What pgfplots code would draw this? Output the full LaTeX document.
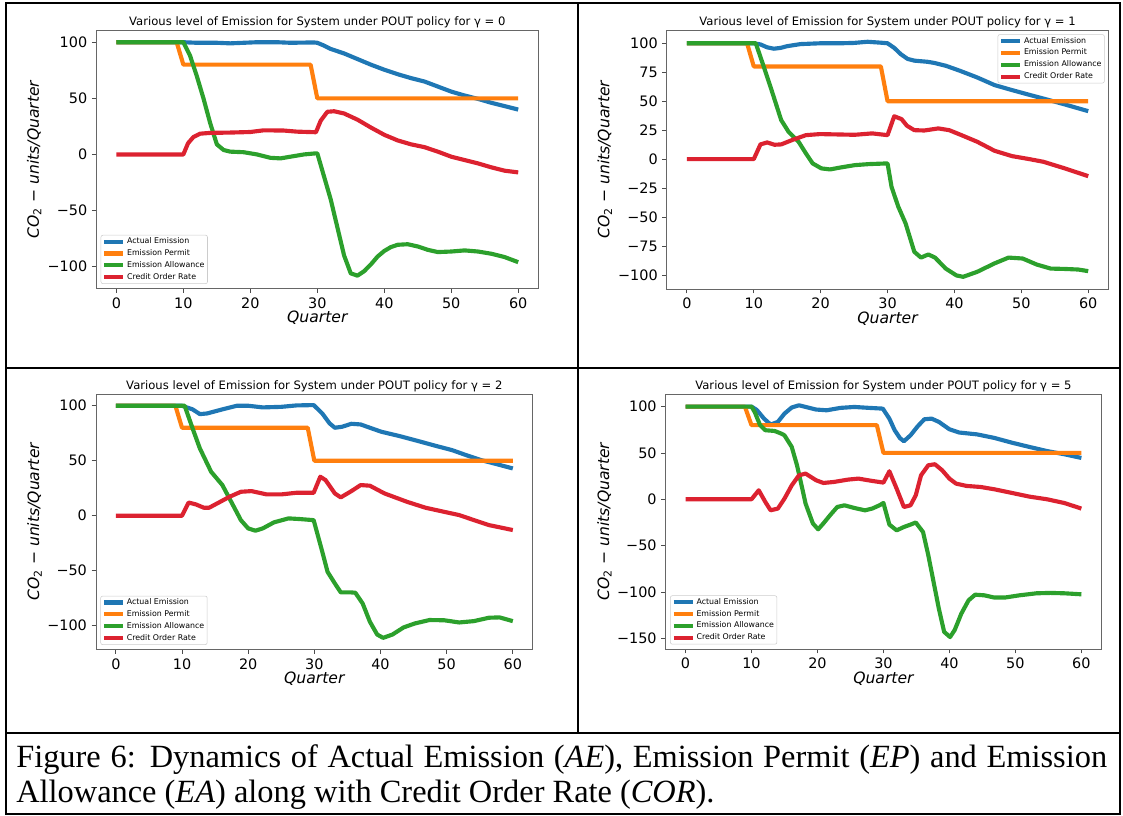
\documentclass[border=0pt]{standalone}
\usepackage{fontspec}
\setmainfont{Liberation Serif}
\newfontfamily\dv{DejaVu Sans}
\usepackage{pgfplots}
\pgfplotsset{compat=1.18}

\definecolor{cblue}{HTML}{1F77B4}
\definecolor{corange}{HTML}{FF7F0E}
\definecolor{cgreen}{HTML}{2CA02C}
\definecolor{cred}{HTML}{DC2230}

\def\U{0.75pt}

\pgfplotsset{
  panel/.style={
    scale only axis, anchor=south west,
    xmin=-3, xmax=63, xtick={0,10,...,60},
    axis line style={black!60, line width=0.6pt},
    tick align=outside, major tick length=3.3pt, tick pos=left,
    tick style={black!70, line width=0.6pt},
    /pgf/number format/assume math mode=true,
    tick label style={font=\dv\fontsize{10.8}{12}\selectfont},
    title style={font=\dv\fontsize{8.7}{10}\selectfont, at={(0.5,1)}, anchor=base, yshift=-2.5pt, inner sep=0pt},
    xlabel={\itshape Quarter},
    xlabel style={font=\dv\fontsize{11.7}{13}\selectfont, at={(axis description cs:0.5,0)}, anchor=base, yshift=-25.5pt, inner sep=0pt},
    ylabel={{\itshape CO}\textsubscript{2} − {\itshape units/Quarter}},
    ylabel style={font=\dv\fontsize{11.7}{13}\selectfont, at={(axis description cs:-0.13,0.5)}, anchor=base, inner sep=0pt},
    every axis plot/.append style={line width=3.1pt, line join=round},
    legend cell align=left,
    legend image code/.code={\draw[#1, line width=3.1pt] (0pt,0pt) -- (14.3pt,0pt);},
    legend style={font=\dv\fontsize{5.9}{7}\selectfont, draw=black!20, rounded corners=1.5pt,
      fill=white, inner xsep=1pt, inner ysep=2pt, row sep=3.2pt,
      nodes={inner xsep=1.2pt, inner ysep=0pt, text height=4.4pt, text depth=1.3pt}},
  },
  lowleft/.style={legend style={at={(0,0)}, anchor=south west, xshift=3.3pt, yshift=3.4pt}},
}

\begin{document}
\begin{tikzpicture}
% ---------- gamma = 0 ----------
\begin{axis}[panel, lowleft, at={(96.3*\U,-288.5*\U)}, width=331.5pt, height=193.5pt,
  ymin=-119.45, ymax=110.45, ytick={-100,-50,0,50,100}, yticklabels={−100,−50,0,50,100},
  title={Various level of Emission for System under POUT policy for γ = 0}]
\addplot[cblue] coordinates {(0,100) (10,100) (12,99.5) (15,99.5) (17,99) (19,99.5) (21,100) (24,100) (26,99.5) (29.5,99.8) (30,99.5) (31,97) (32,94) (34,90) (36,85) (38,80) (40,75.5) (42,71.5) (44,68) (46,65) (48,60.5) (50,56) (52,52.5) (54,49.5) (56,46) (58,43) (60,40)};
\addplot[corange] coordinates {(0,100) (9,100) (10,80) (29,80) (30,50) (60,50)};
\addplot[cgreen] coordinates {(0,100) (10,100) (11,88) (12,70) (13,50) (14,28) (15,9) (16,4) (17,2.5) (19,2) (21,0) (23,-3) (24.5,-3.5) (26,-2) (28,0) (29.8,1) (30,1) (32,-40) (34,-90) (35,-106) (36,-108) (37,-104) (38,-98) (39,-91) (40,-86) (41,-82.5) (42,-80.5) (43.5,-80) (45,-82) (46.5,-85) (48,-87) (50,-86.5) (52,-85.5) (54,-86.5) (56,-88.5) (58,-91.5) (60,-96)};
\addplot[cred] coordinates {(0,0) (10,0) (10.7,10) (11.5,15.5) (12.5,18.5) (14,19.2) (17,19.5) (20,20) (22,21.5) (25,21.3) (27,20.3) (29.8,19.8) (30.5,30) (31.5,38) (32.5,38.5) (34,36.5) (36,31) (38,24) (40,17.5) (42,12.5) (44,9) (46,6.5) (48,2.5) (50,-2) (52,-5) (54,-8) (56,-11.5) (58,-14.5) (60,-16)};
\legend{Actual Emission, Emission Permit, Emission Allowance, Credit Order Rate}
\end{axis}
% ---------- gamma = 1 ----------
\begin{axis}[panel, at={(666.8*\U,-289.1*\U)}, width=331.1pt, height=194.1pt,
  ymin=-112.2, ymax=111.2, ytick={-100,-75,...,100}, yticklabels={−100,−75,−50,−25,0,25,50,75,100},
  legend style={at={(1,1)}, anchor=north east, xshift=-2.7pt, yshift=-3pt},
  title={Various level of Emission for System under POUT policy for γ = 1}]
\addplot[cblue] coordinates {(0,100) (10,100) (11,99) (12,96.5) (13,95.3) (14,96) (15,97.5) (17,99.3) (20,100) (23,100) (25,100.3) (27,101.3) (29,100.5) (30,100) (31,96) (32,90.5) (33,86.5) (34,85) (36,84) (37,83) (38.7,80.6) (40.8,76.3) (43.4,70.5) (46,63.9) (48.6,59.6) (51.2,55.5) (53.8,51.5) (56.5,47.2) (60,41.4)};
\addplot[corange] coordinates {(0,100) (9,100) (10,80) (29,80) (30,50) (60,50)};
\addplot[cgreen] coordinates {(0,100) (10.3,100) (11.5,79.7) (12.5,62.4) (14.1,33.7) (15.2,23.6) (16.7,15) (17.8,4.9) (18.8,-3.7) (20.1,-8) (21.4,-8.9) (23,-7.2) (25.1,-5.2) (27.2,-4.3) (30,-3.7) (30.6,-24) (31.6,-41) (32.7,-55.5) (34,-80) (35,-85) (36.1,-82.3) (37.1,-85) (38.7,-94.5) (40.3,-100.4) (41.3,-101.6) (43.4,-97.3) (46,-90) (48.1,-85) (50.2,-85.8) (52.3,-91) (54.4,-94.5) (56.5,-94.8) (58.5,-95.3) (60,-96.7)};
\addplot[cred] coordinates {(0,0) (10,0) (11,12.7) (12,14.4) (13.1,12.4) (14.1,12.7) (15.7,16.4) (17.8,20.7) (19.9,21.6) (22.5,21.3) (25.1,21) (27.7,22.2) (30,20.7) (31,37) (32.1,34.5) (32.9,28.8) (34,25) (35.5,24.7) (37.6,26.5) (39.2,25) (40.8,21.3) (43.4,15) (46,7.2) (48.6,2.6) (51.2,0) (53.3,-2.3) (56.5,-8) (60,-14.7)};
\legend{Actual Emission, Emission Permit, Emission Allowance, Credit Order Rate}
\end{axis}
% ---------- gamma = 2 ----------
\begin{axis}[panel, lowleft, at={(96*\U,-649.4*\U)}, width=327.5pt, height=191.4pt,
  ymin=-121.5, ymax=110.5, ytick={-100,-50,0,50,100}, yticklabels={−100,−50,0,50,100},
  title={Various level of Emission for System under POUT policy for γ = 2}]
\addplot[cblue] coordinates {(0,100) (10,100) (11.6,96.7) (12.7,92.4) (13.8,93) (16.1,96.7) (18.3,100) (20,100) (22.2,98.5) (25,99) (27.3,100.3) (29.9,100.6) (31.2,93) (32.3,84) (33.1,80) (34.2,80.9) (35.6,83.6) (37,83) (38.4,80) (40.1,76.4) (42.9,72.4) (45.7,67.9) (48.5,63.3) (50.8,59.7) (53,55) (55.2,50.6) (57.5,47) (60,43)};
\addplot[corange] coordinates {(0,100) (9,100) (10,80) (29,80) (30,50) (60,50)};
\addplot[cgreen] coordinates {(0,100) (10.4,100) (11.6,79.4) (12.7,61.2) (14.4,40) (16.1,27.9) (17.7,9.7) (18.9,-4) (20,-11.5) (21.1,-13.6) (22.2,-11.5) (23.9,-6) (26.1,-2.4) (27.8,-3) (29.9,-4) (31.2,-32.7) (32,-51) (33.1,-61.5) (34,-69.7) (35.6,-69.7) (36.2,-70) (37.3,-79.7) (38.4,-96.4) (39.5,-108) (40.4,-111) (41.8,-108) (43.5,-101.5) (45.2,-97.9) (47.4,-94.8) (49.6,-95) (51.9,-97) (54.1,-95.8) (56.4,-92.7) (58,-92.4) (60,-95.8)};
\addplot[cred] coordinates {(0,0) (10,0) (11,12) (12.1,10.3) (13.3,7.3) (14.1,7.3) (15.5,11.8) (17.2,17.3) (18.9,21.8) (20.5,22.4) (22.8,19.4) (25,19.4) (27.3,20.9) (29.9,20.9) (30.9,35.5) (31.7,32.4) (33.1,20.3) (34,16.7) (35.6,22.4) (37,27.9) (38.4,27.3) (40.6,20.3) (44,12.7) (46.8,7.3) (49.6,3.6) (51.9,0.6) (54.1,-3.9) (56.4,-8.5) (60,-13)};
\legend{Actual Emission, Emission Permit, Emission Allowance, Credit Order Rate}
\end{axis}
% ---------- gamma = 5 ----------
\begin{axis}[panel, lowleft, at={(665.7*\U,-649*\U)}, width=326.6pt, height=191.2pt,
  ymin=-161.5, ymax=113.5, ytick={-150,-100,-50,0,50,100}, yticklabels={−150,−100,−50,0,50,100},
  title={Various level of Emission for System under POUT policy for γ = 5}]
\addplot[cblue] coordinates {(0,100) (10,100) (10.8,96.4) (11.9,87) (12.9,80.6) (14,83.5) (15,92.4) (16.1,99) (17.2,101.4) (18.2,99.6) (19.8,96.8) (21.4,96) (23.5,98.6) (25.6,99.6) (27.8,98.6) (29.9,97.8) (30.9,87) (31.7,74.5) (32.5,66) (33.1,62.6) (34.1,69) (35.2,78.8) (36.2,86.3) (37.3,87) (38.4,83.5) (40,75.5) (41.5,72) (44.2,70) (46.8,66.2) (49.5,61) (52.1,56.5) (54.8,52) (57.4,48.6) (60,44.6)};
\addplot[corange] coordinates {(0,100) (9,100) (10,80) (29,80) (30,50) (60,50)};
\addplot[cgreen] coordinates {(0,100) (10,100) (10.5,94) (11.3,80) (12.1,74.5) (13.5,73.7) (14.5,70.9) (15,69) (16.1,56.5) (16.9,36.7) (17.7,11.5) (18.2,-4.7) (19.3,-26) (20.1,-32.4) (20.9,-26) (21.9,-17.3) (23,-8.3) (24.1,-6.5) (25.6,-9.4) (27.2,-11.9) (28.3,-10) (29.4,-6.5) (30,-4) (30.9,-27.3) (32,-33.5) (33.1,-29.9) (34.1,-27.3) (34.9,-25) (36,-35.3) (36.8,-60.4) (37.6,-89.2) (38.4,-118) (39.2,-143) (40.1,-148.6) (40.8,-141) (41.8,-123.4) (42.9,-109) (43.9,-102.9) (45.3,-103.6) (46.8,-106) (48.4,-106) (50.6,-103.6) (53.2,-101.4) (55.3,-101) (57.4,-101.4) (60,-102.5)};
\addplot[cred] coordinates {(0,0) (10,0) (11.1,9.7) (12.1,-2.9) (12.9,-11.9) (14,-10) (15,0.7) (16.1,15) (17.2,25.9) (18.2,27.7) (19.8,20.5) (20.9,17.6) (22.5,18.7) (24.6,21.2) (26.2,22.3) (28.3,19.8) (30,18) (30.9,30.2) (32,11.5) (33.1,-8.3) (34.1,-6.5) (34.9,4.3) (35.7,25.9) (36.8,36.7) (37.8,37.8) (38.9,31.3) (40,22.3) (41,16.9) (42.6,14.4) (44.7,13.3) (46.8,10.8) (49.5,6.8) (52.1,2.9) (54.8,0) (57.4,-4) (60,-10)};
\legend{Actual Emission, Emission Permit, Emission Allowance, Credit Order Rate}
\end{axis}
% ---------- table rules and caption ----------
\draw[line width=1.5pt] (6*\U,-3*\U) rectangle (1120*\U,-814*\U);
\draw[line width=1.5pt] (578*\U,-3*\U) -- (578*\U,-732.5*\U);
\draw[line width=1.5pt] (6*\U,-368*\U) -- (1120*\U,-368*\U);
\draw[line width=1.5pt] (6*\U,-732.5*\U) -- (1120*\U,-732.5*\U);
\node[anchor=base west, inner sep=0pt, font=\fontsize{24.3}{28}\selectfont] at (16*\U,-767*\U)
  {\makebox[818.25pt][s]{Figure 6: Dynamics of Actual Emission (\textit{AE}), Emission Permit (\textit{EP}) and Emission}};
\node[anchor=base west, inner sep=0pt, font=\fontsize{24.3}{28}\selectfont] at (16*\U,-802*\U)
  {Allowance (\textit{EA}) along with Credit Order Rate (\textit{COR}).};
\pgfresetboundingbox
\path (0,0) rectangle (1123*\U,-816*\U);
\end{tikzpicture}
\end{document}
